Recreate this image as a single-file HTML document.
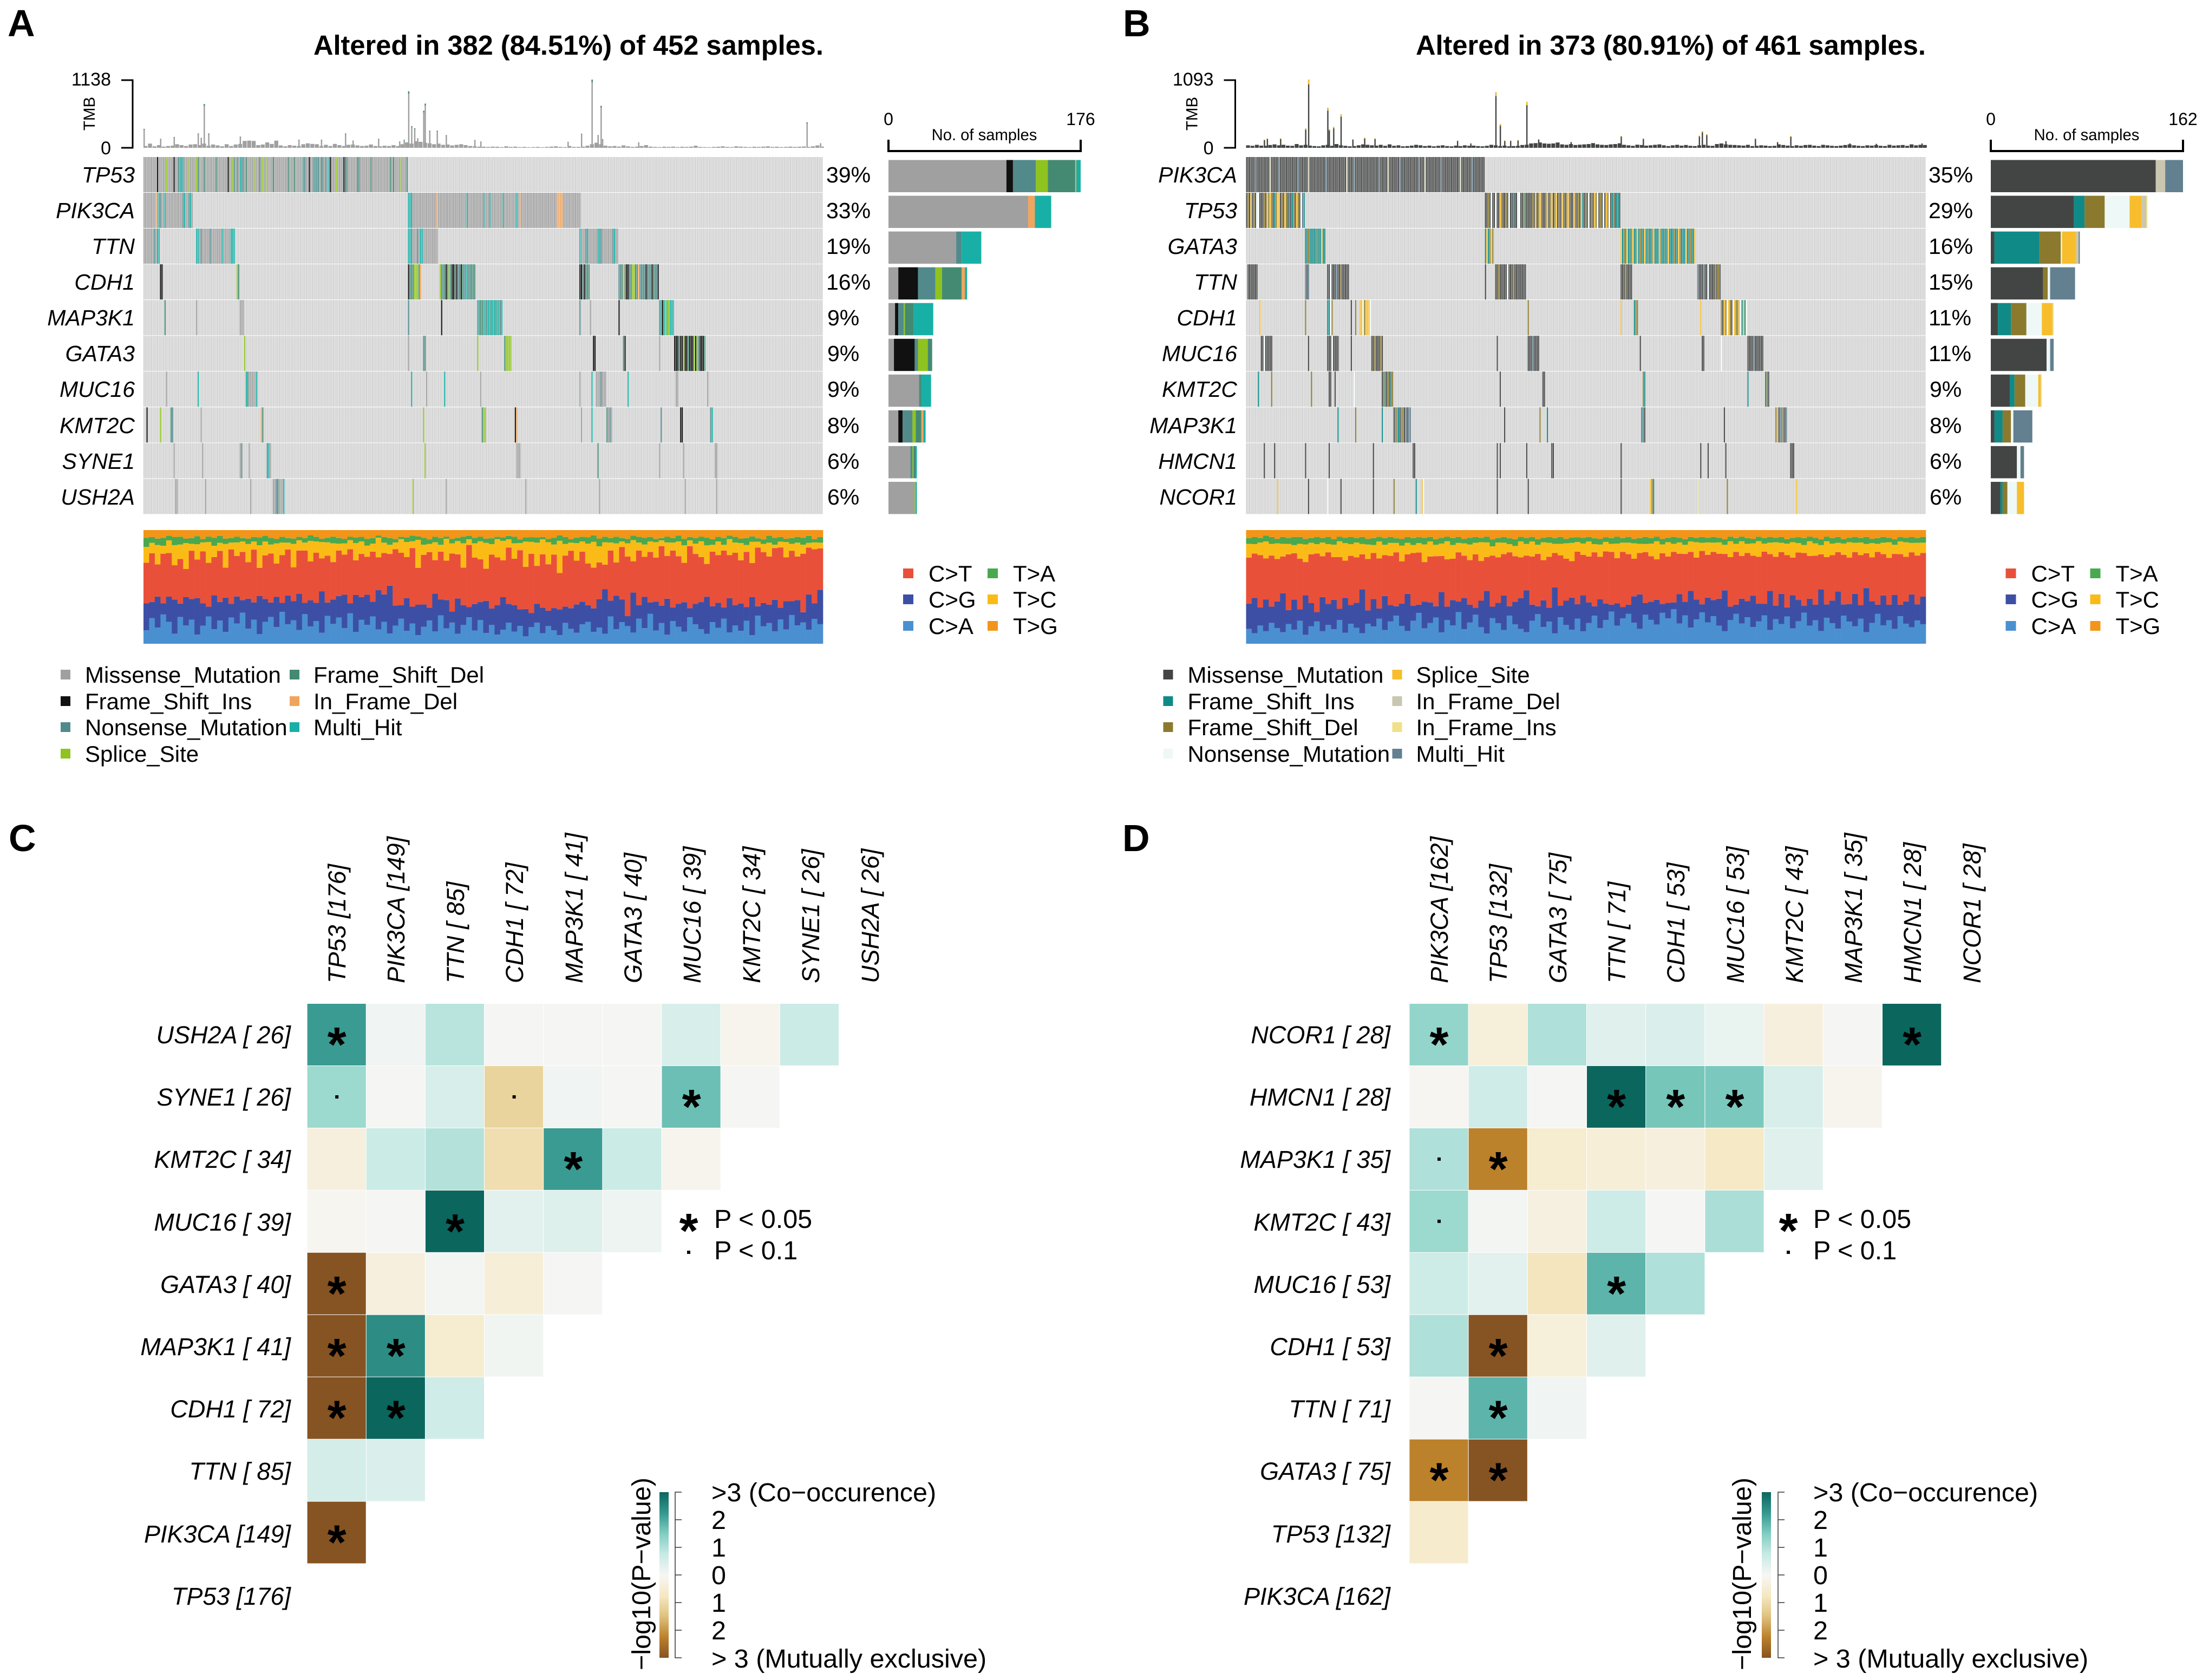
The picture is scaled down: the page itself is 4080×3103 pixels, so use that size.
<!DOCTYPE html>
<html lang="en">
<head>
<meta charset="utf-8">
<title>Oncoplots and somatic interaction maps</title>
<style>
html,body{margin:0;padding:0;background:#fff}
svg{display:block}
text{font-family:"Liberation Sans",Arial,sans-serif;fill:#000}
.it{font-style:italic}
.g{font-size:41px;font-style:italic;text-anchor:end}
.p{font-size:41px}
.lg{font-size:42px}
.h{font-size:45px;font-style:italic}
.he{text-anchor:end}
.cb{font-size:48.5px}
</style>
</head>
<body>
<svg xmlns="http://www.w3.org/2000/svg" width="4080" height="3103" viewBox="0 0 4080 3103">
<defs>
<linearGradient id="brbg" x1="0" y1="0" x2="0" y2="1">
<stop offset="0" stop-color="#0b665e"/><stop offset=".125" stop-color="#35978f"/><stop offset=".25" stop-color="#80cdc1"/><stop offset=".375" stop-color="#c7eae5"/><stop offset=".5" stop-color="#f6f6f4"/><stop offset=".625" stop-color="#f6e8c3"/><stop offset=".75" stop-color="#dfc27d"/><stop offset=".875" stop-color="#bc812b"/><stop offset="1" stop-color="#865322"/>
</linearGradient>
</defs>

<!-- panel letters -->
<text x="14" y="67" font-size="70" font-weight="700">A</text>
<text x="2074" y="67" font-size="70" font-weight="700">B</text>
<text x="16" y="1572" font-size="70" font-weight="700">C</text>
<text x="2073" y="1572" font-size="70" font-weight="700">D</text>

<!-- titles -->
<text x="1521" y="101" font-size="50.6" font-weight="700" text-anchor="end">Altered in 382 (84.51%) of 452 samples.</text>
<text x="3557" y="101" font-size="50.6" font-weight="700" text-anchor="end">Altered in 373 (80.91%) of 461 samples.</text>

<!-- TMB axes -->
<g>
<path d="M224 148H245V273H224" fill="none" stroke="#000" stroke-width="3"/>
<text x="205" y="158" font-size="34" text-anchor="end">1138</text>
<text x="205" y="285" font-size="34" text-anchor="end">0</text>
<text transform="translate(175,210) rotate(-90)" font-size="29.5" text-anchor="middle">TMB</text>
</g>
<g>
<path d="M2260.500 148H2281.500V273H2260.500" fill="none" stroke="#000" stroke-width="3"/>
<text x="2241.500" y="158" font-size="34" text-anchor="end">1093</text>
<text x="2241.500" y="285" font-size="34" text-anchor="end">0</text>
<text transform="translate(2211.500,210) rotate(-90)" font-size="29.500" text-anchor="middle">TMB</text>
</g>

<!-- sample-count axes -->
<g>
<path d="M1641 258V279H1996V258" fill="none" stroke="#000" stroke-width="4"/>
<text x="1641" y="231" font-size="32" text-anchor="middle">0</text>
<text x="1996" y="231" font-size="32" text-anchor="middle">176</text>
<text x="1818" y="259" font-size="29.2" text-anchor="middle">No. of samples</text>
</g>
<g>
<path d="M3677 258V279H4032V258" fill="none" stroke="#000" stroke-width="4"/>
<text x="3677" y="231" font-size="32" text-anchor="middle">0</text>
<text x="4032" y="231" font-size="32" text-anchor="middle">162</text>
<text x="3854" y="259" font-size="29.2" text-anchor="middle">No. of samples</text>
</g>

<!-- gene labels A -->
<g>
<text class="g" x="249" y="337">TP53</text>
<text class="g" x="249" y="403">PIK3CA</text>
<text class="g" x="249" y="469">TTN</text>
<text class="g" x="249" y="535">CDH1</text>
<text class="g" x="249" y="601">MAP3K1</text>
<text class="g" x="249" y="667">GATA3</text>
<text class="g" x="249" y="733">MUC16</text>
<text class="g" x="249" y="800">KMT2C</text>
<text class="g" x="249" y="866">SYNE1</text>
<text class="g" x="249" y="932">USH2A</text>
</g>
<g>
<text class="p" x="1526" y="337">39%</text>
<text class="p" x="1526" y="403">33%</text>
<text class="p" x="1526" y="469">19%</text>
<text class="p" x="1526" y="535">16%</text>
<text class="p" x="1528" y="601">9%</text>
<text class="p" x="1528" y="667">9%</text>
<text class="p" x="1528" y="733">9%</text>
<text class="p" x="1528" y="800">8%</text>
<text class="p" x="1528" y="866">6%</text>
<text class="p" x="1528" y="932">6%</text>
</g>

<!-- gene labels B -->
<g>
<text class="g" x="2285" y="337">PIK3CA</text>
<text class="g" x="2285" y="403">TP53</text>
<text class="g" x="2285" y="469">GATA3</text>
<text class="g" x="2285" y="535">TTN</text>
<text class="g" x="2285" y="601">CDH1</text>
<text class="g" x="2285" y="667">MUC16</text>
<text class="g" x="2285" y="733">KMT2C</text>
<text class="g" x="2285" y="800">MAP3K1</text>
<text class="g" x="2285" y="866">HMCN1</text>
<text class="g" x="2285" y="932">NCOR1</text>
</g>
<g>
<text class="p" x="3562" y="337">35%</text>
<text class="p" x="3562" y="403">29%</text>
<text class="p" x="3562" y="469">16%</text>
<text class="p" x="3562" y="535">15%</text>
<text class="p" x="3562" y="601">11%</text>
<text class="p" x="3562" y="667">11%</text>
<text class="p" x="3564" y="733">9%</text>
<text class="p" x="3564" y="800">8%</text>
<text class="p" x="3564" y="866">6%</text>
<text class="p" x="3564" y="932">6%</text>
</g>

<!-- substitution legend A -->
<g>
<rect x="1668" y="1050" width="19" height="18" fill="#e9503a"/><text class="lg" x="1715" y="1074">C&gt;T</text>
<rect x="1668" y="1098" width="19" height="18" fill="#3d4fa5"/><text class="lg" x="1715" y="1122">C&gt;G</text>
<rect x="1668" y="1147" width="19" height="18" fill="#4a90d0"/><text class="lg" x="1715" y="1171">C&gt;A</text>
<rect x="1824" y="1050" width="19" height="18" fill="#4aa84e"/><text class="lg" x="1871" y="1074">T&gt;A</text>
<rect x="1824" y="1098" width="19" height="18" fill="#fbbb17"/><text class="lg" x="1871" y="1122">T&gt;C</text>
<rect x="1824" y="1147" width="19" height="18" fill="#f39519"/><text class="lg" x="1871" y="1171">T&gt;G</text>
</g>
<!-- substitution legend B -->
<g transform="translate(2036.500,0)">
<rect x="1668" y="1050" width="19" height="18" fill="#e9503a"/><text class="lg" x="1715" y="1074">C&gt;T</text>
<rect x="1668" y="1098" width="19" height="18" fill="#3d4fa5"/><text class="lg" x="1715" y="1122">C&gt;G</text>
<rect x="1668" y="1147" width="19" height="18" fill="#4a90d0"/><text class="lg" x="1715" y="1171">C&gt;A</text>
<rect x="1824" y="1050" width="19" height="18" fill="#4aa84e"/><text class="lg" x="1871" y="1074">T&gt;A</text>
<rect x="1824" y="1098" width="19" height="18" fill="#fbbb17"/><text class="lg" x="1871" y="1122">T&gt;C</text>
<rect x="1824" y="1147" width="19" height="18" fill="#f39519"/><text class="lg" x="1871" y="1171">T&gt;G</text>
</g>

<!-- mutation legend A -->
<g>
<rect x="112" y="1237" width="18" height="18" fill="#a0a0a0"/><text class="lg" x="157" y="1261">Missense_Mutation</text>
<rect x="112" y="1286" width="18" height="18" fill="#111"/><text class="lg" x="157" y="1310">Frame_Shift_Ins</text>
<rect x="112" y="1334" width="18" height="18" fill="#528a8c"/><text class="lg" x="157" y="1358">Nonsense_Mutation</text>
<rect x="112" y="1383" width="18" height="18" fill="#8fc31f"/><text class="lg" x="157" y="1407">Splice_Site</text>
<rect x="535" y="1237" width="18" height="18" fill="#448a72"/><text class="lg" x="579" y="1261">Frame_Shift_Del</text>
<rect x="535" y="1286" width="18" height="18" fill="#f2a45c"/><text class="lg" x="579" y="1310">In_Frame_Del</text>
<rect x="535" y="1334" width="18" height="18" fill="#18b0a6"/><text class="lg" x="579" y="1358">Multi_Hit</text>
</g>
<!-- mutation legend B -->
<g transform="translate(2036.500,0)">
<rect x="112" y="1237" width="18" height="18" fill="#434544"/><text class="lg" x="157" y="1261">Missense_Mutation</text>
<rect x="112" y="1286" width="18" height="18" fill="#0f8a87"/><text class="lg" x="157" y="1310">Frame_Shift_Ins</text>
<rect x="112" y="1334" width="18" height="18" fill="#8b7a2e"/><text class="lg" x="157" y="1358">Frame_Shift_Del</text>
<rect x="112" y="1383" width="18" height="18" fill="#eef8f6"/><text class="lg" x="157" y="1407">Nonsense_Mutation</text>
<rect x="535" y="1237" width="18" height="18" fill="#f7bd2d"/><text class="lg" x="579" y="1261">Splice_Site</text>
<rect x="535" y="1286" width="18" height="18" fill="#c9c7b0"/><text class="lg" x="579" y="1310">In_Frame_Del</text>
<rect x="535" y="1334" width="18" height="18" fill="#f0e08a"/><text class="lg" x="579" y="1358">In_Frame_Ins</text>
<rect x="535" y="1383" width="18" height="18" fill="#62808f"/><text class="lg" x="579" y="1407">Multi_Hit</text>
</g>

<!-- heatmap C labels -->
<g>
<text class="h he" x="537" y="1927">USH2A [ 26]</text>
<text class="h he" x="537" y="2042">SYNE1 [ 26]</text>
<text class="h he" x="537" y="2157">KMT2C [ 34]</text>
<text class="h he" x="537" y="2273">MUC16 [ 39]</text>
<text class="h he" x="537" y="2388">GATA3 [ 40]</text>
<text class="h he" x="537" y="2503">MAP3K1 [ 41]</text>
<text class="h he" x="537" y="2618">CDH1 [ 72]</text>
<text class="h he" x="537" y="2733">TTN [ 85]</text>
<text class="h he" x="537" y="2849">PIK3CA [149]</text>
<text class="h he" x="537" y="2964">TP53 [176]</text>
</g>
<g>
<text class="h" transform="translate(638,1816) rotate(-90)">TP53 [176]</text>
<text class="h" transform="translate(747,1816) rotate(-90)">PIK3CA [149]</text>
<text class="h" transform="translate(857,1816) rotate(-90)">TTN [ 85]</text>
<text class="h" transform="translate(966,1816) rotate(-90)">CDH1 [ 72]</text>
<text class="h" transform="translate(1076,1816) rotate(-90)">MAP3K1 [ 41]</text>
<text class="h" transform="translate(1185,1816) rotate(-90)">GATA3 [ 40]</text>
<text class="h" transform="translate(1294,1816) rotate(-90)">MUC16 [ 39]</text>
<text class="h" transform="translate(1404,1816) rotate(-90)">KMT2C [ 34]</text>
<text class="h" transform="translate(1513,1816) rotate(-90)">SYNE1 [ 26]</text>
<text class="h" transform="translate(1623,1816) rotate(-90)">USH2A [ 26]</text>
</g>

<!-- heatmap D labels -->
<g>
<text class="h he" x="2568" y="1927">NCOR1 [ 28]</text>
<text class="h he" x="2568" y="2042">HMCN1 [ 28]</text>
<text class="h he" x="2568" y="2157">MAP3K1 [ 35]</text>
<text class="h he" x="2568" y="2273">KMT2C [ 43]</text>
<text class="h he" x="2568" y="2388">MUC16 [ 53]</text>
<text class="h he" x="2568" y="2503">CDH1 [ 53]</text>
<text class="h he" x="2568" y="2618">TTN [ 71]</text>
<text class="h he" x="2568" y="2733">GATA3 [ 75]</text>
<text class="h he" x="2568" y="2849">TP53 [132]</text>
<text class="h he" x="2568" y="2964">PIK3CA [162]</text>
</g>
<g>
<text class="h" transform="translate(2674,1816) rotate(-90)">PIK3CA [162]</text>
<text class="h" transform="translate(2783,1816) rotate(-90)">TP53 [132]</text>
<text class="h" transform="translate(2893,1816) rotate(-90)">GATA3 [ 75]</text>
<text class="h" transform="translate(3002,1816) rotate(-90)">TTN [ 71]</text>
<text class="h" transform="translate(3111,1816) rotate(-90)">CDH1 [ 53]</text>
<text class="h" transform="translate(3221,1816) rotate(-90)">MUC16 [ 53]</text>
<text class="h" transform="translate(3330,1816) rotate(-90)">KMT2C [ 43]</text>
<text class="h" transform="translate(3439,1816) rotate(-90)">MAP3K1 [ 35]</text>
<text class="h" transform="translate(3548,1816) rotate(-90)">HMCN1 [ 28]</text>
<text class="h" transform="translate(3658,1816) rotate(-90)">NCOR1 [ 28]</text>
</g>

<!-- significance legends -->
<g>
<text x="1272" y="2304" font-size="90" font-weight="700" text-anchor="middle">*</text>
<text class="cb" x="1319" y="2268">P &lt; 0.05</text>
<rect x="1269" y="2310" width="6" height="6" fill="#000"/>
<text class="cb" x="1319" y="2326">P &lt; 0.1</text>
</g>
<g>
<text x="3303" y="2304" font-size="90" font-weight="700" text-anchor="middle">*</text>
<text class="cb" x="3349" y="2268">P &lt; 0.05</text>
<rect x="3300" y="2310" width="6" height="6" fill="#000"/>
<text class="cb" x="3349" y="2326">P &lt; 0.1</text>
</g>

<!-- colorbars -->
<g>
<rect x="1218" y="2756" width="17" height="306" fill="url(#brbg)"/>
<path d="M1259 2756H1247V3062H1259M1247 2807H1259M1247 2858H1259M1247 2909H1259M1247 2960H1259M1247 3011H1259" fill="none" stroke="#333" stroke-width="1.5"/>
<text class="cb" x="1314" y="2773">&gt;3 (Co−occurence)</text>
<text class="cb" x="1314" y="2824">2</text>
<text class="cb" x="1314" y="2875">1</text>
<text class="cb" x="1314" y="2926">0</text>
<text class="cb" x="1314" y="2977">1</text>
<text class="cb" x="1314" y="3028">2</text>
<text class="cb" x="1314" y="3080">&gt; 3 (Mutually exclusive)</text>
<text class="cb" transform="translate(1201,2907) rotate(-90)" text-anchor="middle">−log10(P−value)</text>
</g>
<g>
<rect x="3254" y="2756" width="17" height="306" fill="url(#brbg)"/>
<path d="M3296 2756H3284V3062H3296M3284 2807H3296M3284 2858H3296M3284 2909H3296M3284 2960H3296M3284 3011H3296" fill="none" stroke="#333" stroke-width="1.5"/>
<text class="cb" x="3349" y="2773">&gt;3 (Co−occurence)</text>
<text class="cb" x="3349" y="2824">2</text>
<text class="cb" x="3349" y="2875">1</text>
<text class="cb" x="3349" y="2926">0</text>
<text class="cb" x="3349" y="2977">1</text>
<text class="cb" x="3349" y="3028">2</text>
<text class="cb" x="3349" y="3080">&gt; 3 (Mutually exclusive)</text>
<text class="cb" transform="translate(3234,2907) rotate(-90)" text-anchor="middle">−log10(P−value)</text>
</g>

<g id="plot-marks"></g>
</svg>

<script>
// ---------- mutation matrix, panel A: [first sample, variant codes] per gene
const mutA_TP53=[[0,"mmmmmmmmmi"+"mmmmmsmmmm"+"immnhnhmmm"+"smmmmsdmmm"+"dmmmmmmmdm"+"mmmmmmimms"+"nmnmhnnmdm"+"mmmsmmmdms"+"msmmmmdmmm"+"mmmmmmdmmm"+"dmmmmmhnmm"+"immnhnnmdn"+"mnmhimmmsm"+"mmmidnmmmm"+"mmdnmmmmmm"+"mdmmmmmmmm"+"mmmmdmdmmm"+"msmmmd"]];
const mutA_PIK3CA=[[0,"mmmmmmmmfmhnmmhmmmmmmmmmmmnhmmnhm"],[176,"hhnmmmmmmmmmmmmmmmmf"+"mmmmmmmmmmmmmmmmmmmh"+"mmmmmmmmmmhmmmhmmmmm"+"mmmhmmmmmmmmhmfmmmmm"+"mmmmmmmmmmmmmmmmmmmf"+"fffmmmmmmmmmmmm"]];
const mutA_TTN=[[0,"mmmmmmmnmhh"],[35,"hhmnmmmmmnmmmmmmmhmmmmmhhh"],[176,"hhnmmmnmhhmmmmmmmmmm"],[290,"hmmmnhmmmmmmhhnmmmmmmmnhmm"]];
const mutA_CDH1=[[11,"ii"],[62,"sd"],[176,"idddsssdf"],[197,"sdndinsdiidindidnhhnddnd"],[290,"iinidnd"],[316,"nndfdiindssddfnndnidnniddni"]];
const mutA_MAP3K1=[[14,"d"],[35,"m"],[64,"mmm"],[176,"n"],[198,"i"],[222,"hnddhhnhhdhhdhhnh"],[290,"n"],[297,"m"],[316,"i"],[343,"hnihshshhh"]];
const mutA_GATA3=[[67,"s"],[176,"m"],[186,"nd"],[222,"s"],[240,"dssss"],[299,"ii"],[319,"di"],[343,"m"],[353,"iiidiisiidiiisisdiiid"]];
const mutA_MUC16=[[15,"m"],[36,"h"],[68,"hdmmmmmh"],[178,"h"],[188,"m"],[200,"h"],[224,"m"],[290,"m"],[298,"h"],[301,"mmmnmmm"],[322,"h"],[354,"mm"],[375,"m"]];
const mutA_KMT2C=[[2,"i"],[11,"s"],[18,"dn"],[38,"m"],[78,"fd"],[186,"s"],[225,"dss"],[247,"if"],[291,"m"],[298,"h"],[308,"dmnm"],[344,"n"],[357,"ii"],[377,"nh"]];
const mutA_SYNE1=[[20,"m"],[39,"m"],[64,"mn"],[70,"m"],[82,"nhm"],[187,"s"],[248,"mmm"],[302,"d"],[343,"m"],[359,"m"],[380,"mm"]];
const mutA_USH2A=[[21,"mm"],[41,"m"],[71,"m"],[86,"mmndmmmh"],[179,"s"],[201,"m"],[254,"m"],[303,"m"],[360,"m"],[381,"m"]];

// ---------- mutation matrix, panel B
const mutB_PIK3CA=[[0,"mmmmmmhmmm"+"mmmmmmfmmm"+"mmhmmmmmmm"+"mmmmmhmmmm"+"mmfmmmmmmm"+"mmmmhmmmmm"+"mmmmmmmmfm"+"mmmhmmmmmm"+"mmmmmmmmmm"+"hmmmmmfmmm"+"mmmmhmmmmm"+"mmmmmmmhmm"+"mfmmmmmmmm"+"mmhmmmmmmm"+"mmmmmfmmmm"+"mmmhmmmmmm"+"mm"]];
const mutB_TP53=[[0,"mdmsmdmnnm"+"mmdmsdsdmi"+"dssmdmsdmi"+"midmsdmnhi"],[162,"mmdmnmmnmm"+"sdmmdmnmmi"+"mmnnmmdimm"+"mmdmsmdsdm"+"mdsmdsmdsm"+"dmsdmdsdmm"+"sdmdmsimdm"+"nmdmsdnmdm"+"nmsdnmidmi"+"im"]];
const mutB_GATA3=[[40,"iidiiiiidiisii"],[162,"isidsd"],[254,"sidisiidsi"+"isidiisidi"+"idsiiisdii"+"disiiidiis"+"diiisiidii"+"s"]];
const mutB_TTN=[[1,"mmmmmmm"],[40,"hmh"],[55,"mmnmmmhmmdmmmmm"],[162,"m"],[169,"mmdmmmmmnmmmdmmmmmmmm"],[254,"mmmdmmmm"],[306,"hmmmhmmnmmmmdmdm"]];
const mutB_CDH1=[[9,"s"],[40,"d"],[55,"iind"],[71,"m"],[74,"d"],[77,"ssndsssn"],[191,"d"],[254,"s"],[263,"idd"],[308,"s"],[322,"dmsdnsdmnsddsnisin"]];
const mutB_MUC16=[[10,"mmnmmmmm"],[42,"m"],[55,"mmmnmmmm"],[71,"m"],[85,"mmdmmmdm"],[170,"m"],[191,"mmmhmmmm"],[267,"m"],[309,"mm"],[322,"n"],[340,"mmmmhmmmmmm"]];
const mutB_KMT2C=[[8,"i"],[17,"d"],[44,"d"],[56,"mm"],[60,"m"],[73,"n"],[92,"mdimdmid"],[172,"m"],[201,"mm"],[269,"di"],[340,"i"],[352,"idm"]];
const mutB_MAP3K1=[[62,"i"],[74,"d"],[92,"i"],[100,"mhdimhdmhmhh"],[175,"m"],[199,"d"],[204,"i"],[268,"ihm"],[324,"m"],[359,"dsmhdhmh"]];
const mutB_HMCN1=[[12,"m"],[19,"m"],[40,"m"],[56,"m"],[86,"m"],[113,"mm"],[170,"m"],[172,"m"],[190,"m"],[207,"mm"],[254,"m"],[308,"m"],[313,"m"],[325,"m"],[369,"mmm"]];
const mutB_NCOR1=[[21,"s"],[42,"m"],[55,"n"],[64,"m"],[86,"m"],[100,"d"],[115,"i"],[119,"sn"],[170,"m"],[191,"m"],[254,"m"],[274,"sdi"],[306,"t"],[326,"d"],[373,"s"]];

// ---------- per-gene sample counts, by variant class
const barOrderA=["m","i","n","s","d","f","h"];
const barCountsA=[[108,6,21,11,25,1,4],[128,0,0,0,0,6,15],[62,0,5,0,0,0,18],[9,18,16,6,18,3,2],[6,3,5,1,8,0,18],[5,19,3,9,4,0,0],[28,0,1,0,1,0,9],[9,4,9,3,5,2,2],[20,0,2,1,2,0,1],[24,0,0,1,0,0,1]];
const barOrderB=["m","i","d","n","s","f","t","h"];
const barCountsB=[[139,0,0,0,0,8,0,15],[70,9,17,21,10,4,1,0],[3,38,18,1,12,2,0,1],[44,0,4,2,0,0,0,21],[6,11,13,13,9,0,1,0],[47,0,0,3,0,0,0,3],[16,4,9,11,2,0,1,0],[3,7,7,2,0,0,0,16],[22,0,0,3,0,0,0,3],[8,2,4,8,6,0,0,0]];

// ---------- TMB: low level per 3-sample bin, and high samples
const tmbBaseA=[30,70,25,45,20,30,35,60,45,30,55,60,45,70,35,55,40,25,60,30,55,65,115,120,115,45,55,90,65,120,40,25,45,35,30,60,75,65,60,30,50,30,65,45,30,50,55,40,30,35,55,30,25,35,30,45,30,60,90,70,110,100,85,75,60,70,50,55,40,50,60,45,30,25,20,18,15,20,18,12,25,15,20,12,15,10,12,15,10,15,20,25,15,12,30,15,15,20,35,60,85,60,35,25,30,20,40,25,15,20,30,45,20,15,12,18,15,20,12,18,15,20,35,15,12,10,15,18,25,15,12,25,20,15,12,18,15,20,25,15,18,12,15,20,15,18,22,15,25,40,20];
const tmbSpikeSamplesA=[0,11,20,36,38,40,43,64,103,118,134,139,156,170,173,176,178,180,182,186,187,190,195,201,220,224,282,291,298,302,304,305,329,441,450];
const tmbSpikeValuesA=[316,150,180,240,165,730,240,186,135,135,240,120,150,105,135,942,360,325,156,617,737,285,285,210,130,105,100,235,1138,210,700,145,90,425,75];
const tmbBaseB=[40,32,48,35,32,45,55,40,48,35,32,60,40,48,35,28,24,40,48,32,60,40,32,24,28,40,55,48,40,35,48,32,55,32,40,24,28,35,48,40,28,35,24,32,40,28,24,35,28,40,32,35,28,24,32,48,40,28,35,24,28,32,45,50,70,75,85,70,65,70,85,55,48,60,45,50,55,60,75,55,48,45,55,60,72,48,40,32,50,45,35,40,48,55,40,28,40,48,35,45,32,28,40,48,35,32,60,70,55,48,45,40,35,48,28,32,40,35,28,32,55,45,35,28,40,32,45,48,35,28,48,40,32,28,35,45,55,40,32,28,40,35,45,32,28,48,35,40,45,32,55,40,48,45];
const tmbSpikeSamplesB=[12,14,23,40,42,55,56,59,64,72,80,87,143,152,169,172,175,179,184,190,198,220,254,269,307,309,312,325,345,360,369,409,427,458];
const tmbSpikeValuesB=[130,150,150,312,1093,640,298,335,535,139,159,150,116,72,890,380,116,116,124,735,139,95,190,150,194,266,217,110,150,95,188,72,66,72];

// ---------- mutational spectrum, share per bin of samples
const sigCA_A=[12,22,15,26,19,10,24,17,21,9,16,25,13,20,11,23,18,27,14,21,9,19,24,15,28,17,22,12,26,16,20,10,25,18,23,14,27,11,21,17,24,13,19,9,16,22,12,18,8,15,20,11,25,14,19,9,17,23,12,21,10,16,8,13,18,11,15,7,14,20,9,16,12,8,18,13,10,17,21,11,15,9,24,13,19,16,10,22,14,26,12,18,8,20,15,11,23,17,13,9,19,14,22,10,16,12,20,8,24,15,18,11,21,13,25,16,19,12,22,17];
const sigCG_A=[24,14,29,10,22,34,12,26,18,36,20,9,30,16,32,12,24,11,28,15,35,20,13,27,8,25,18,32,10,24,16,38,12,22,19,30,9,34,20,27,13,36,24,42,18,12,30,15,28,20,11,34,14,26,10,32,18,9,24,16,30,14,26,30,16,24,14,26,12,18,22,14,20,24,14,18,26,20,16,22,26,40,14,30,20,9,36,12,28,10,26,15,32,12,20,27,8,18,24,34,14,22,10,30,18,25,12,36,8,20,16,28,10,26,12,22,9,30,14,30];
const sigCT_A=[36,42,30,44,38,34,40,26,42,38,46,40,34,44,28,48,36,42,34,46,26,38,44,30,42,40,32,38,46,36,44,30,42,34,40,36,48,32,38,34,44,30,36,28,50,46,38,52,34,44,48,30,42,36,52,40,34,54,42,38,30,46,42,34,48,42,50,40,50,36,46,42,48,34,44,50,40,44,40,38,34,22,44,30,46,54,28,48,36,44,40,52,38,50,42,36,54,44,40,30,48,42,50,38,46,40,48,32,50,44,42,46,52,40,44,38,52,40,48,36];
const sigTC_A=[14,9,18,7,11,20,13,24,6,15,8,19,10,7,22,6,12,9,17,7,21,12,8,18,11,6,22,9,7,19,10,15,12,17,6,10,8,16,11,10,7,18,9,8,6,12,14,6,26,9,7,16,6,20,9,12,22,5,13,16,24,9,16,18,7,14,6,24,10,22,13,20,9,30,10,7,16,9,19,24,15,20,7,17,5,12,19,7,11,9,14,5,12,7,13,16,5,9,14,17,6,12,5,14,9,16,6,20,5,7,12,3,5,14,6,12,8,4,6,5];
const sigTA_A=[8,5,6,7,4,8,7,4,5,8,3,5,7,6,5,4,5,3,5,4,7,5,6,4,5,4,5,3,4,5,4,3,4,6,5,4,3,5,4,6,5,2,5,6,3,2,4,5,3,6,4,5,6,2,4,3,6,3,5,4,4,5,2,3,3,6,3,4,4,5,2,3,6,5,6,3,5,4,6,6,7,5,4,6,3,4,4,5,6,4,3,2,5,4,5,6,3,5,4,7,5,4,6,3,5,4,6,5,3,4,6,6,4,3,5,5,6,6,3,5];
const sigTG_A=[7,6,8,7,5,7,6,8,7,6,8,6,7,5,8,7,6,7,8,6,7,5,7,8,6,7,8,6,7,5,6,8,7,6,7,8,6,7,6,8,7,5,6,7,8,6,7,5,6,7,8,6,7,6,8,7,6,5,7,6,8,7,6,7,5,6,8,7,6,7,6,8,7,5,6,8,7,6,7,5,8,6,7,6,7,8,5,6,7,6,8,7,6,7,5,8,6,7,6,7,8,6,7,5,6,8,7,6,7,8,5,7,6,8,7,6,7,5,8,6];
const sigCA_B=[13,9,16,11,18,14,10,17,12,20,8,15,19,11,16,13,21,10,17,14,9,18,15,22,12,19,24,16,11,20,26,14,18,23,10,21,16,27,13,19,25,15,9,22,18,12,24,17,13,10,20,26,15,19,9,23,17,13,21,11,18,24,14,20,28,16,22,26,19,13,25,21,17,28,23,30,18,25,14,22,27,19,24,16,11,21,26,18,23,15,20,25,12,22,17,24,14,19,27,16,21,11,23,18,13,25,20,15,22,10,19,26,16,21,13,24,18,14,20,17];
const sigCG_B=[22,30,16,28,14,24,34,12,26,10,36,20,8,30,18,26,10,32,16,22,38,12,24,9,30,14,8,20,32,13,7,24,18,10,36,12,22,9,28,16,6,24,38,10,18,30,8,20,27,36,14,7,24,12,40,10,22,30,12,32,18,8,26,14,6,20,10,8,24,30,10,16,22,8,14,6,26,12,32,18,7,22,14,24,36,12,8,22,14,28,16,10,34,12,26,8,30,18,6,24,14,36,12,20,32,10,16,28,12,38,20,8,26,14,30,10,20,28,14,24];
const sigCT_B=[40,38,46,36,44,38,32,48,40,44,30,42,50,36,44,38,46,34,42,40,30,46,40,44,36,42,46,38,34,46,44,36,40,44,32,42,36,42,38,40,46,36,30,44,40,36,46,40,36,30,42,46,36,44,30,44,38,34,44,36,40,46,38,44,46,40,48,44,34,36,44,40,36,46,42,44,36,42,34,38,46,38,42,40,32,44,46,38,42,36,42,46,32,44,36,46,34,40,46,38,44,30,42,40,34,44,42,36,44,30,40,46,36,42,36,44,40,36,42,38];
const sigTC_B=[12,8,11,15,10,14,11,9,7,13,16,10,8,12,7,11,14,16,10,13,9,13,7,15,9,11,8,14,10,7,8,16,13,10,11,16,12,8,11,14,10,17,13,8,13,10,7,9,14,10,13,8,16,12,8,10,14,17,8,10,13,7,11,8,7,13,8,10,14,8,7,11,16,8,13,7,10,8,9,14,7,11,8,10,8,14,7,13,8,11,14,7,10,13,8,10,14,8,7,13,11,8,14,10,8,10,14,8,11,8,13,7,10,14,8,11,13,8,11,9];
const sigTA_B=[5,6,4,5,6,4,6,5,7,6,5,4,6,4,6,5,4,5,6,4,6,5,6,4,6,5,4,6,5,6,5,6,4,5,5,4,6,5,4,6,5,4,5,6,4,5,5,6,4,5,4,5,4,5,5,6,4,5,4,5,4,5,5,4,5,6,4,5,4,5,6,5,4,5,4,6,4,5,4,4,5,4,5,4,5,4,5,4,5,4,4,5,5,4,5,4,4,5,6,4,5,5,4,5,5,4,4,5,4,6,4,5,5,4,5,4,4,5,4,5];
const sigTG_B=[7,6,7,5,6,8,6,7,6,6,8,7,6,7,6,8,6,7,6,7,6,8,7,6,7,6,7,8,6,7,6,7,6,8,7,6,7,6,8,7,6,7,6,8,7,6,7,8,6,7,6,8,7,6,7,6,8,7,6,7,6,7,8,6,7,6,7,6,8,7,6,7,6,8,7,6,7,8,6,7,6,7,6,7,8,6,7,6,7,8,6,7,6,7,6,8,7,6,7,6,7,8,6,7,6,8,7,6,7,6,8,7,6,7,8,6,7,6,7,6];

// ---------- interaction matrices: signed -log10(P), marks: * p<0.05, . p<0.1
const interactionC=[[2.2,.1,.9,.02,.02,.01,.5,-.12,.68],[1.2,.01,.5,-1.15,.1,.01,1.7,.02],[-.35,.68,.95,-.95,2.2,.68,-.12],[-.08,.01,3,.3,.38,.15],[-3,-.35,.04,-.45,.01],[-3,2.4,-.55,.08],[-3,3,.6],[.55,.45],[-3]];
const marksC=["*________",".__.__*_","____*__","__*___","*____","**__","**_","__","*"];
const interactionD=[[1.3,-.4,1,.35,.45,.2,-.35,.01,3],[-.05,.6,.01,3,1.6,1.55,.5,-.1],[1,-2.25,-.55,-.45,-.35,-.7,.35],[1.2,.04,-.3,.65,.01,1.05],[.65,.3,-.8,1.85,1],[1,-3,-.4,.35],[.01,1.85,.1],[-2.25,-3],[-.6]];
const marksD=["*_______*","___***__",".*_____",".______","___*_","_*__","_*_","**","_"];
const colorStops=["#865322","#bc812b","#dfc27d","#f6e8c3","#f6f6f4","#c7eae5","#80cdc1","#35978f","#0b665e"];

const NS="http://www.w3.org/2000/svg";
const root=document.getElementById("plot-marks");
function make(tag,parent,props){
  const el=document.createElementNS(NS,tag);
  for(const k in props) el.setAttribute(k,props[k]);
  parent.appendChild(el);
  return el;
}
function group(name){
  const g=make("g",root,{});
  
  
  return g;
}

const paletteA={m:"#a0a0a0",i:"#111111",n:"#528a8c",s:"#8fc31f",d:"#448a72",f:"#f2a45c",h:"#18b0a6"};
const paletteB={m:"#434544",i:"#0f8a87",d:"#8b7a2e",n:"#eef8f6",s:"#f7bd2d",f:"#c9c7b0",t:"#f0e08a",h:"#62808f"};
const spectrumColors=["#4a90d0","#3d4fa5","#e9503a","#fbbb17","#4aa84e","#f39519"];

function oncoplot(p){
  const sw=(p.x1-p.x0)/p.n;
  const xSample=i=>p.x0+i*sw;
  const yRow=r=>290+r*66.05;
  const gm=group("oncoplot-"+p.id);
  p.genes.forEach((runs,r)=>{
    let d="";
    for(let i=0;i<p.n;i++) d+="M"+xSample(i).toFixed(2)+" "+yRow(r)+"h"+(sw-.7).toFixed(2)+"v65h-"+(sw-.7).toFixed(2)+"z";
    const bg=make("path",gm,{d:d,fill:"#cfcfcf"});
    
    
    runs.forEach(run=>{
      [...run[1]].forEach((code,k)=>{
        const c=make("rect",gm,{x:xSample(run[0]+k).toFixed(2),y:yRow(r),width:(sw-.7).toFixed(2),height:65,fill:p.palette[code]});
        
        
      });
    });
  });
  // TMB
  const gt=group("tmb-bars-"+p.id);
  const yT=v=>273-v*126/p.tmbMax;
  p.tmbBase.forEach((v,b)=>{
    const s=make("rect",gt,{x:xSample(b*3).toFixed(2),y:yT(v).toFixed(2),width:(sw*3-1).toFixed(2),height:(273-yT(v)).toFixed(2),fill:p.tmbColor});
    
    
  });
  p.spikeS.forEach((sample,k)=>{
    const v=p.spikeV[k];
    const s=make("rect",gt,{x:xSample(sample).toFixed(2),y:yT(v).toFixed(2),width:(sw-.3).toFixed(2),height:(273-yT(v)).toFixed(2),fill:p.tmbColor});
    
    
    const t=make("rect",gt,{x:xSample(sample).toFixed(2),y:yT(v).toFixed(2),width:(sw-.3).toFixed(2),height:(v*126/p.tmbMax*p.tipShare).toFixed(2),fill:p.tipColor});
    
    
  });
  // side bars
  const gb=group("gene-count-bars-"+p.id);
  const xCount=c=>p.bx0+c*(p.bx1-p.bx0)/p.barMax;
  p.barCounts.forEach((row,r)=>{
    let cum=0;
    row.forEach((v,k)=>{
      if(!v) return;
      const s=make("rect",gb,{x:xCount(cum).toFixed(2),y:295.5+r*66.05,width:(xCount(v)-xCount(0)).toFixed(2),height:59.5,fill:p.palette[p.barOrder[k]]});
      
      
      cum+=v;
    });
  });
  // spectrum
  const gs=group("mutation-spectrum-"+p.id);
  const bins=p.sig[0].length;
  const bw=(p.x1-p.x0)/bins;
  const yTop=979,yBase=1189;
  for(let b=0;b<bins;b++){
    const vals=p.sig.map(a=>a[b]||0);
    const total=vals.reduce((a,c)=>a+c,0)||1;
    let cum=0;
    vals.forEach((v,k)=>{
      const h=v/total*(yBase-yTop);
      const s=make("rect",gs,{x:(p.x0+b*bw).toFixed(2),y:(yBase-cum-h).toFixed(2),width:(bw+.3).toFixed(2),height:h.toFixed(2),fill:spectrumColors[k]});
      
      
      cum+=h;
    });
  }
}

function cellColor(v){
  const t=Math.max(0,Math.min(8,(v+3)/.75));
  const i=Math.min(7,Math.floor(t)),f=t-i;
  const rgb=h=>[1,3,5].map(k=>parseInt(h.substr(k,2),16));
  const a=rgb(colorStops[i]),b=rgb(colorStops[i+1]);
  return "rgb("+a.map((c,k)=>Math.round(c+(b[k]-c)*f)).join(",")+")";
}
function heatmap(p){
  const g=group("interaction-matrix-"+p.id);
  const xCol=c=>p.x0+c*p.pitch;
  const yRow=r=>1854+r*114.95;
  p.values.forEach((row,r)=>{
    row.forEach((v,c)=>{
      const s=make("rect",g,{x:xCol(c).toFixed(2),y:yRow(r).toFixed(2),width:(p.pitch-1).toFixed(2),height:113.95,fill:cellColor(v)});
      
      
      const m=(p.marks[r]||"")[c];
      const cx=xCol(c)+p.pitch/2,cy=yRow(r)+57;
      if(m==="*"){
        const t=make("text",g,{x:cx.toFixed(1),y:(cy+49).toFixed(1),"font-size":90,"font-weight":700,"text-anchor":"middle"});
        t.textContent="*";
        
        
      }else if(m==="."){
        const t=make("rect",g,{x:(cx-3).toFixed(1),y:(cy-3).toFixed(1),width:6,height:6,fill:"#000"});
        
        
      }
    });
  });
}

oncoplot({id:"a",n:452,x0:265,x1:1520,bx0:1641,bx1:1996,barMax:176,tmbMax:1138,tmbColor:"#a0a0a0",tipColor:"#448a72",tipShare:.04,palette:paletteA,barOrder:barOrderA,barCounts:barCountsA,
  genes:[mutA_TP53,mutA_PIK3CA,mutA_TTN,mutA_CDH1,mutA_MAP3K1,mutA_GATA3,mutA_MUC16,mutA_KMT2C,mutA_SYNE1,mutA_USH2A],
  tmbBase:tmbBaseA,spikeS:tmbSpikeSamplesA,spikeV:tmbSpikeValuesA,
  sig:[sigCA_A,sigCG_A,sigCT_A,sigTC_A,sigTA_A,sigTG_A]});
oncoplot({id:"b",n:461,x0:2301.5,x1:3557,bx0:3677,bx1:4032,barMax:162,tmbMax:1093,tmbColor:"#434544",tipColor:"#f7bd2d",tipShare:.07,palette:paletteB,barOrder:barOrderB,barCounts:barCountsB,
  genes:[mutB_PIK3CA,mutB_TP53,mutB_GATA3,mutB_TTN,mutB_CDH1,mutB_MUC16,mutB_KMT2C,mutB_MAP3K1,mutB_HMCN1,mutB_NCOR1],
  tmbBase:tmbBaseB,spikeS:tmbSpikeSamplesB,spikeV:tmbSpikeValuesB,
  sig:[sigCA_B,sigCG_B,sigCT_B,sigTC_B,sigTA_B,sigTG_B]});
heatmap({id:"c",x0:567.6,pitch:109.15,values:interactionC,marks:marksC});
heatmap({id:"d",x0:2603.4,pitch:109.2,values:interactionD,marks:marksD});
</script>
</body>
</html>
